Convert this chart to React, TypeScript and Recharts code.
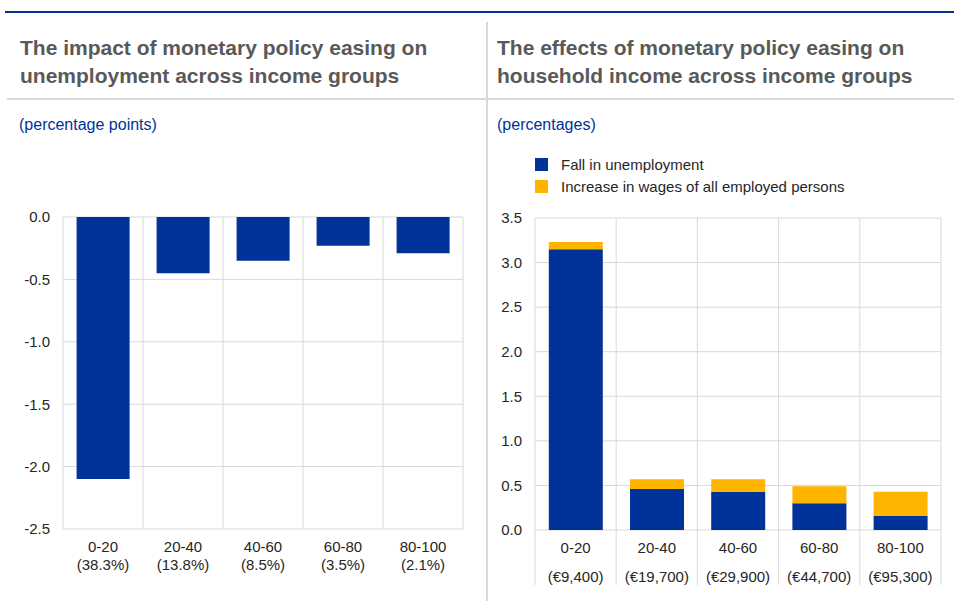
import React from 'react';
import { BarChart, Bar, XAxis, YAxis, CartesianGrid, Legend } from 'recharts';

const categories = ['0-20', '20-40', '40-60', '60-80', '80-100'];
const populationShares = ['(38.3%)', '(13.8%)', '(8.5%)', '(3.5%)', '(2.1%)'];
const medianIncomes = ['(€9,400)', '(€19,700)', '(€29,900)', '(€44,700)', '(€95,300)'];

const unemploymentImpact = [-2.1, -0.45, -0.35, -0.23, -0.29];
const fallInUnemployment = [3.15, 0.46, 0.43, 0.3, 0.16];
const wageIncrease = [0.08, 0.11, 0.14, 0.19, 0.27];

const leftTicks = [-2.5, -2.0, -1.5, -1.0, -0.5, 0.0];
const rightTicks = [0, 0.5, 1.0, 1.5, 2.0, 2.5, 3.0, 3.5];

const BLUE = '#003299';
const YELLOW = '#FFB400';
const GRID = '#d9d9d9';
const TEXT = '#262626';
const FONT = '"Liberation Sans", Arial, sans-serif';
const TICK_SIZE = 15;

const leftData = categories.map((c, i) => ({ group: c, value: unemploymentImpact[i] }));
const rightData = categories.map((c, i) => ({
  group: c,
  unemployment: fallInUnemployment[i],
  wages: wageIncrease[i],
}));

const boundaries = ({ offset }: any) =>
  categories.map((_, i) => offset.left + (i * offset.width) / categories.length).concat(offset.left + offset.width);

const LeftTick = (props: any) => {
  const { x, y, payload, index } = props;
  return (
    <g>
      <text x={x} y={y + 23} textAnchor="middle" fill={TEXT} fontSize={TICK_SIZE} fontFamily={FONT}>{payload.value}</text>
      <text x={x} y={y + 41} textAnchor="middle" fill={TEXT} fontSize={TICK_SIZE} fontFamily={FONT}>{populationShares[index]}</text>
    </g>
  );
};

const RIGHT_PLOT_W = 406;
const RightTick = (props: any) => {
  const { x, y, payload, index } = props;
  const band = RIGHT_PLOT_W / categories.length;
  return (
    <g>
      <line x1={x - band / 2} x2={x - band / 2} y1={y} y2={y + 55} stroke={GRID} />
      {index === categories.length - 1 && (
        <line x1={x + band / 2} x2={x + band / 2} y1={y} y2={y + 55} stroke={GRID} />
      )}
      <text x={x} y={y + 23} textAnchor="middle" fill={TEXT} fontSize={TICK_SIZE} fontFamily={FONT}>{payload.value}</text>
      <text x={x} y={y + 52} textAnchor="middle" fill={TEXT} fontSize={TICK_SIZE} fontFamily={FONT}>{medianIncomes[index]}</text>
    </g>
  );
};

const LegendContent = (props: any) => {
  const { payload } = props;
  return (
    <div style={{ fontFamily: FONT, fontSize: 15, color: TEXT }}>
      {(payload || []).map((p: any) => (
        <div key={p.value} style={{ display: 'flex', alignItems: 'center', height: 22 }}>
          <span style={{ width: 13, height: 13, background: p.color, display: 'inline-block', marginRight: 13 }} />
          <span>{p.value}</span>
        </div>
      ))}
    </div>
  );
};

const titleStyle: React.CSSProperties = {
  position: 'absolute',
  fontFamily: FONT,
  fontWeight: 'bold',
  fontSize: 21,
  lineHeight: '28px',
  color: '#595959',
  margin: 0,
  whiteSpace: 'nowrap',
};

const subStyle: React.CSSProperties = {
  position: 'absolute',
  fontFamily: FONT,
  fontSize: 16,
  color: BLUE,
};

export default function App() {
  return (
    <div style={{ position: 'fixed', left: 0, top: 0, width: 954, height: 601, background: '#fff', overflow: 'hidden' }}>
      <div style={{ position: 'absolute', left: 5, top: 11, width: 949, height: 2, background: BLUE }} />
      <div style={{ position: 'absolute', left: 486, top: 22, width: 2, height: 579, background: '#d9d9d9' }} />
      <div style={{ position: 'absolute', left: 7, top: 98, width: 947, height: 2, background: '#d9d9d9' }} />

      <div style={{ ...titleStyle, left: 20, top: 34 }}>
        The impact of monetary policy easing on<br />unemployment across income groups
      </div>
      <div style={{ ...titleStyle, left: 497, top: 34 }}>
        The effects of monetary policy easing on<br />household income across income groups
      </div>
      <div style={{ ...subStyle, left: 19, top: 116 }}>(percentage points)</div>
      <div style={{ ...subStyle, left: 497, top: 116 }}>(percentages)</div>

      <div style={{ position: 'absolute', left: 0, top: 200 }}>
        <BarChart width={480} height={400} data={leftData} margin={{ top: 17, right: 17, bottom: 0, left: 0 }} barCategoryGap="17%">
          <CartesianGrid stroke={GRID} verticalCoordinatesGenerator={boundaries} />
          <XAxis dataKey="group" axisLine={false} tickLine={false} tickSize={0} tickMargin={0} height={71} tick={<LeftTick />} interval={0} />
          <YAxis
            domain={[-2.5, 0]}
            ticks={leftTicks}
            width={63}
            axisLine={false}
            tickLine={false}
            tickMargin={7}
            tickFormatter={(v: number) => v.toFixed(1)}
            tick={{ fill: TEXT, fontSize: TICK_SIZE, fontFamily: FONT }}
          />
          <Bar dataKey="value" fill={BLUE} isAnimationActive={false} />
        </BarChart>
      </div>

      <div style={{ position: 'absolute', left: 480, top: 140 }}>
        <BarChart width={474} height={461} data={rightData} margin={{ top: 78, right: 13, bottom: 0, left: 0 }} barCategoryGap="17%">
          <CartesianGrid stroke={GRID} verticalCoordinatesGenerator={boundaries} />
          <XAxis dataKey="group" axisLine={false} tickLine={false} tickSize={0} tickMargin={0} height={71} tick={<RightTick />} interval={0} />
          <YAxis
            domain={[0, 3.5]}
            ticks={rightTicks}
            width={55}
            axisLine={false}
            tickLine={false}
            tickMargin={7}
            tickFormatter={(v: number) => v.toFixed(1)}
            tick={{ fill: TEXT, fontSize: TICK_SIZE, fontFamily: FONT }}
          />
          <Legend
            layout="horizontal"
            verticalAlign="middle"
            align="center"
            wrapperStyle={{ position: 'absolute', top: 13, left: 55, width: 400 }}
            content={<LegendContent />}
          />
          <Bar dataKey="unemployment" name="Fall in unemployment" stackId="a" fill={BLUE} isAnimationActive={false} />
          <Bar dataKey="wages" name="Increase in wages of all employed persons" stackId="a" fill={YELLOW} isAnimationActive={false} />
        </BarChart>
      </div>
    </div>
  );
}
